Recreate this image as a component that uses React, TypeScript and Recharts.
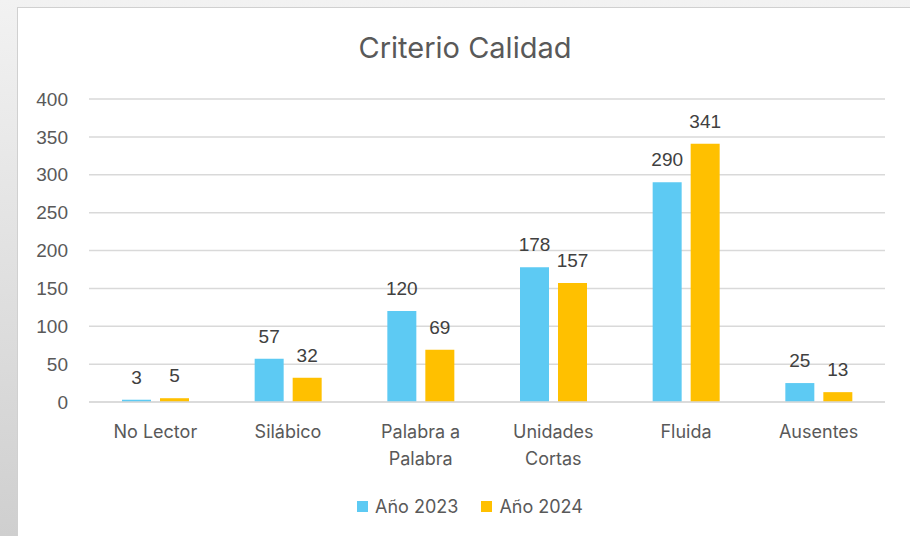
import React from "react";
import {
  Bar,
  BarChart,
  CartesianGrid,
  LabelList,
  Legend,
  XAxis,
  YAxis,
} from "recharts";

const categories = [
  "No Lector",
  "Silábico",
  "Palabra a Palabra",
  "Unidades Cortas",
  "Fluida",
  "Ausentes",
];
const values2023 = [3, 57, 120, 178, 290, 25];
const values2024 = [5, 32, 69, 157, 341, 13];
const yTicks = [0, 50, 100, 150, 200, 250, 300, 350, 400];

const BLUE = "#5DCAF3";
const YELLOW = "#FFC000";
const TEXT = "#595959";
const UI_FONT = "Inter, 'Noto Sans', sans-serif";
const NUM_FONT = "'Liberation Sans', Arial, sans-serif";

const chartData = categories.map((name, i) => ({
  name,
  y2023: values2023[i],
  y2024: values2024[i],
}));

// greedy wrap, about 10 chars per line
function wrap(label: string): string[] {
  const words = label.split(" ");
  const lines: string[] = [];
  let cur = "";
  for (const w of words) {
    const next = cur ? cur + " " + w : w;
    if (next.length > 10 && cur) {
      lines.push(cur);
      cur = w;
    } else {
      cur = next;
    }
  }
  if (cur) lines.push(cur);
  return lines;
}

const CategoryTick = (props: any) => {
  const { x, y, payload } = props;
  const lines = wrap(String(payload.value));
  return (
    <text
      x={x}
      y={y}
      textAnchor="middle"
      fill={TEXT}
      fontFamily={UI_FONT}
      fontSize={18}
    >
      {lines.map((l, i) => (
        <tspan key={i} x={x} y={y + 28 + i * 27}>
          {l}
        </tspan>
      ))}
    </text>
  );
};

const LegendContent = (props: any) => {
  const { payload } = props;
  return (
    <div
      style={{
        display: "flex",
        justifyContent: "center",
        gap: 23,
        fontFamily: UI_FONT,
        fontSize: 18,
        color: TEXT,
      }}
    >
      {(payload || []).map((p: any) => (
        <div key={p.value} style={{ display: "flex", alignItems: "center" }}>
          <span
            style={{
              display: "inline-block",
              width: 11,
              height: 11,
              background: p.color,
              marginRight: 7,
            }}
          />
          <span>{p.value}</span>
        </div>
      ))}
    </div>
  );
};

export default function App() {
  return (
    <div
      style={{
        position: "fixed",
        left: 0,
        top: 0,
        width: 910,
        height: 536,
        overflow: "hidden",
        background: "linear-gradient(180deg, #f2f2f2 0%, #cfcfcf 100%)",
      }}
    >
      <div
        style={{
          position: "absolute",
          left: 17,
          top: 7,
          width: 900,
          height: 540,
          background: "#ffffff",
          border: "1px solid #d0d0d0",
        }}
      />
      <div style={{ position: "absolute", left: 0, top: 0 }}>
        <BarChart
          width={910}
          height={536}
          data={chartData}
          margin={{ top: 99, right: 25, bottom: 74, left: 0 }}
          barSize={29}
          barGap={9}
        >
          <text
            x={465}
            y={47}
            textAnchor="middle"
            dominantBaseline="central"
            fill={TEXT}
            fontFamily={UI_FONT}
            fontSize={29}
          >
            Criterio Calidad
          </text>
          <CartesianGrid vertical={false} stroke="#d9d9d9" strokeWidth={1.5} />
          <XAxis
            dataKey="name"
            height={60}
            tickLine={false}
            axisLine={{ stroke: "#d9d9d9", strokeWidth: 1.5 }}
            interval={0}
            tick={<CategoryTick />}
          />
          <YAxis
            width={89}
            domain={[0, 400]}
            ticks={yTicks}
            tickLine={false}
            axisLine={false}
            tickMargin={15}
            tick={{ fill: TEXT, fontSize: 19, fontFamily: NUM_FONT }}
          />
          <Legend
            verticalAlign="middle"
            align="center"
            wrapperStyle={{ top: 496, left: 15, width: 910 }}
            content={<LegendContent />}
          />
          <Bar dataKey="y2023" name="Año 2023" fill={BLUE} isAnimationActive={false}>
            <LabelList
              dataKey="y2023"
              position="top"
              offset={16}
              fill="#404040"
              fontSize={19}
              fontFamily={NUM_FONT}
            />
          </Bar>
          <Bar dataKey="y2024" name="Año 2024" fill={YELLOW} isAnimationActive={false}>
            <LabelList
              dataKey="y2024"
              position="top"
              offset={16}
              fill="#404040"
              fontSize={19}
              fontFamily={NUM_FONT}
            />
          </Bar>
        </BarChart>
      </div>
    </div>
  );
}
